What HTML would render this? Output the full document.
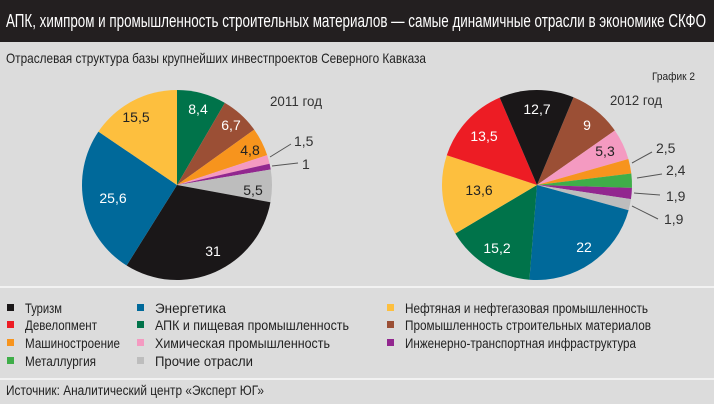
<!DOCTYPE html>
<html><head><meta charset="utf-8"><style>
html,body{margin:0;padding:0;background:#dcdcdc;}
svg{display:block;font-family:"Liberation Sans Narrow","Liberation Sans",sans-serif;}
</style></head><body>
<svg id="s" width="714" height="404" viewBox="0 0 714 404" xmlns="http://www.w3.org/2000/svg">
<rect width="714" height="404" fill="#dcdcdc"/>
<rect width="714" height="42" fill="#231f20"/>
<text x="6" y="27" font-size="18" fill="#fff" textLength="700" lengthAdjust="spacingAndGlyphs">АПК, химпром и промышленность строительных материалов — самые динамичные отрасли в экономике СКФО</text>
<text x="6" y="63" font-size="14" fill="#222" textLength="420" lengthAdjust="spacingAndGlyphs">Отраслевая структура базы крупнейших инвестпроектов Северного Кавказа</text>
<text x="652" y="80" font-size="11" fill="#222" textLength="43" lengthAdjust="spacingAndGlyphs">График 2</text>
<g id="p1"></g><g id="p2"></g>
<g font-size="14" fill="#333">
<text x="270" y="106" textLength="52" lengthAdjust="spacingAndGlyphs">2011 год</text>
<text x="610" y="105" textLength="52" lengthAdjust="spacingAndGlyphs">2012 год</text>
<text x="294" y="146">1,5</text><text x="302" y="169">1</text>
<text x="656" y="153">2,5</text><text x="666" y="175">2,4</text><text x="666" y="201">1,9</text><text x="664" y="224">1,9</text>
</g>
<g stroke="#555" stroke-width="1">
<line x1="270" y1="157" x2="291" y2="144"/><line x1="272" y1="166" x2="298" y2="163"/>
<line x1="632" y1="163" x2="652" y2="152"/><line x1="637" y1="178" x2="662" y2="174"/>
<line x1="634" y1="193" x2="660" y2="195"/><line x1="632" y1="206" x2="658" y2="219"/>
</g>
<g font-size="14" text-anchor="middle">
<text x="198" y="114" fill="#fff">8,4</text><text x="231" y="130" fill="#fff">6,7</text>
<text x="250" y="155" fill="#222">4,8</text><text x="253" y="195" fill="#222">5,5</text>
<text x="213" y="256" fill="#fff">31</text><text x="113" y="203" fill="#fff">25,6</text>
<text x="136" y="122" fill="#222">15,5</text>
<text x="537" y="114" fill="#fff">12,7</text><text x="587" y="130" fill="#fff">9</text>
<text x="605" y="156" fill="#222">5,3</text><text x="484" y="141" fill="#fff">13,5</text>
<text x="479" y="195" fill="#222">13,6</text><text x="497" y="253" fill="#fff">15,2</text>
<text x="584" y="252" fill="#fff">22</text>
</g>
<line x1="0" y1="287" x2="714" y2="287" stroke="#f2f2f2" stroke-width="2"/>
<g id="leg" font-size="13.5" fill="#222"></g>
<line x1="0" y1="379" x2="714" y2="379" stroke="#f2f2f2" stroke-width="2"/>
<text x="6" y="395" font-size="13.5" fill="#222" textLength="258" lengthAdjust="spacingAndGlyphs">Источник: Аналитический центр «Эксперт ЮГ»</text>
</svg>
<script>
var C={blk:"#1a1718",blu:"#00699a",yel:"#fdbf3e",red:"#ed1c24",grn:"#00734a",brn:"#9b4f35",org:"#f7941d",pnk:"#f49ac1",pur:"#92278f",lgr:"#3fae49",gry:"#bdbdbd"};
function pie(id,cx,cy,r,start,data){var g=document.getElementById(id),a=start*Math.PI/180,h="";
data.forEach(function(d){var b=a+d[1]/100*2*Math.PI;
var x1=cx+r*Math.sin(a),y1=cy-r*Math.cos(a),x2=cx+r*Math.sin(b),y2=cy-r*Math.cos(b);
h+='<path d="M'+cx+','+cy+'L'+x1+','+y1+'A'+r+','+r+' 0 '+((b-a)>Math.PI?1:0)+' 1 '+x2+','+y2+'Z" fill="'+C[d[0]]+'"/>';a=b;});
g.innerHTML=h;}
pie("p1",177,185,95,0,[["grn",8.4],["brn",6.7],["org",4.8],["pnk",1.5],["pur",1],["gry",5.5],["blk",31],["blu",25.6],["yel",15.5]]);
pie("p2",537,185,95,22.6,[["brn",9],["pnk",5.3],["org",2.5],["lgr",2.4],["pur",1.9],["gry",1.9],["blu",22],["grn",15.2],["yel",13.6],["red",13.5],["blk",12.7]]);
var L=[[7,308,"blk","Туризм",37],[7,325,"red","Девелопмент",72],[7,343,"org","Машиностроение",95],[7,361,"lgr","Металлургия",71],
[137,308,"blu","Энергетика",71],[137,325,"grn","АПК и пищевая промышленность",194],[137,343,"pnk","Химическая промышленность",175],[137,361,"gry","Прочие отрасли",98],
[387,308,"yel","Нефтяная и нефтегазовая промышленность",243],[387,325,"brn","Промышленность строительных материалов",246],[387,343,"pur","Инженерно-транспортная инфраструктура",231]];
var h="";L.forEach(function(l){h+='<rect x="'+l[0]+'" y="'+(l[1]-4)+'" width="7" height="7" fill="'+C[l[2]]+'"/>';
h+='<text x="'+(l[0]+18)+'" y="'+(l[1]+5)+'" textLength="'+l[4]+'" lengthAdjust="spacingAndGlyphs">'+l[3]+'</text>';});
document.getElementById("leg").innerHTML=h;
</script>
</body></html>
